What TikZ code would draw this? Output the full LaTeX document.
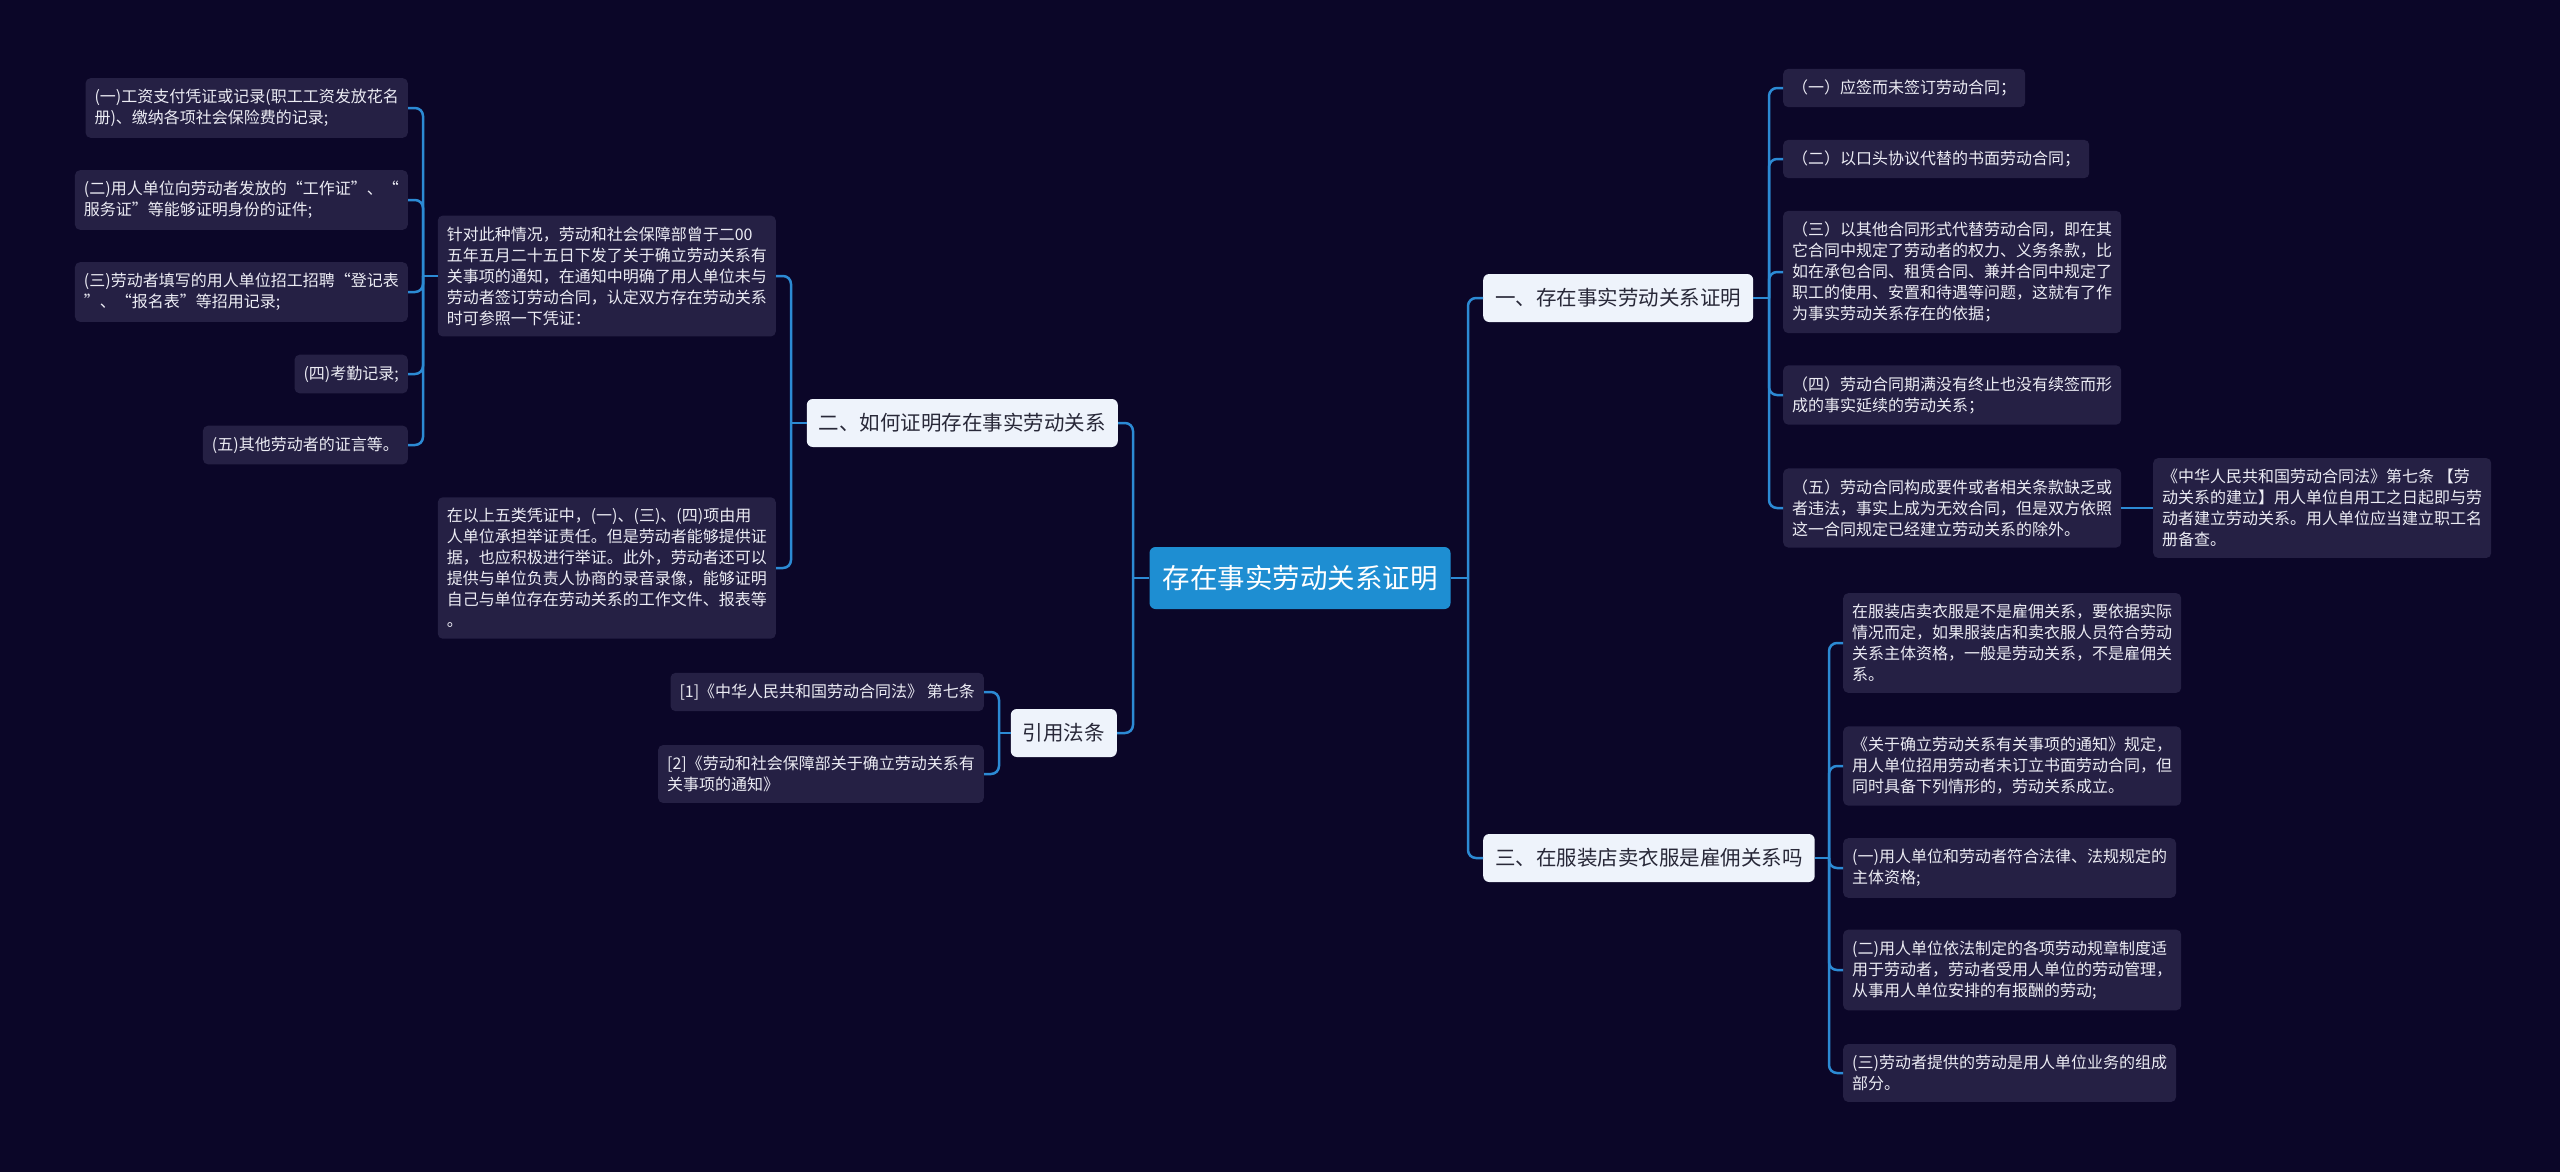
\documentclass[tikz,border=0pt]{standalone}
\usepackage{fontspec}
\setmainfont{Noto Sans CJK SC}
\definecolor{bgnavy}{RGB}{11,6,40}
\definecolor{leafbg}{RGB}{37,32,68}
\definecolor{leaftext}{RGB}{236,236,244}
\definecolor{mainbg}{RGB}{238,243,251}
\definecolor{maintext}{RGB}{40,40,56}
\definecolor{rootblue}{RGB}{30,142,210}
\definecolor{linkblue}{RGB}{44,138,212}

\begin{document}
\begin{tikzpicture}[
    x=1pt, y=-1pt,
    leaf/.style={fill=leafbg, text=leaftext, rounded corners=5pt, align=left, inner xsep=9pt, inner ysep=11pt, font=\fontsize{16pt}{21pt}\selectfont},
    branch/.style={fill=mainbg, text=maintext, rounded corners=6pt, inner xsep=12pt, minimum height=48pt, font=\fontsize{20.5pt}{24pt}\selectfont},
    root/.style={fill=rootblue, text=white, rounded corners=6pt, inner xsep=13pt, minimum height=62pt, font=\fontsize{27.5pt}{32pt}\selectfont},
    link/.style={draw=linkblue, line width=2.5pt, rounded corners=8pt}
]
  \useasboundingbox (0,0) rectangle (2560,1171);
  \fill[bgnavy] (-10,-10) rectangle (2570,1181);

  % centre and main branches
  \node[root] (root) at (1300,578) {存在事实劳动关系证明};
  \node[branch, anchor=west] (one) at (1483,298) {一、存在事实劳动关系证明};
  \node[branch, anchor=east] (two) at (1118,423) {二、如何证明存在事实劳动关系};
  \node[branch, anchor=west] (three) at (1483,858) {三、在服装店卖衣服是雇佣关系吗};
  \node[branch, anchor=east] (cite) at (1117,733) {引用法条};

  % branch one
  \node[leaf, anchor=west] (one1) at (1783,88) {（一）应签而未签订劳动合同；};
  \node[leaf, anchor=west] (one2) at (1783,159) {（二）以口头协议代替的书面劳动合同；};
  \node[leaf, anchor=west] (one3) at (1783,272) {（三）以其他合同形式代替劳动合同，即在其\\它合同中规定了劳动者的权力、义务条款，比\\如在承包合同、租赁合同、兼并合同中规定了\\职工的使用、安置和待遇等问题，这就有了作\\为事实劳动关系存在的依据；};
  \node[leaf, anchor=west] (one4) at (1783,395) {（四）劳动合同期满没有终止也没有续签而形\\成的事实延续的劳动关系；};
  \node[leaf, anchor=west] (one5) at (1783,508) {（五）劳动合同构成要件或者相关条款缺乏或\\者违法，事实上成为无效合同，但是双方依照\\这一合同规定已经建立劳动关系的除外。};
  \node[leaf, anchor=west] (law) at (2153,508) {《中华人民共和国劳动合同法》第七条 【劳\\动关系的建立】用人单位自用工之日起即与劳\\动者建立劳动关系。用人单位应当建立职工名\\册备查。};

  % branch three
  \node[leaf, anchor=west] (three1) at (1843,643) {在服装店卖衣服是不是雇佣关系，要依据实际\\情况而定，如果服装店和卖衣服人员符合劳动\\关系主体资格，一般是劳动关系，不是雇佣关\\系。};
  \node[leaf, anchor=west] (three2) at (1843,766) {《关于确立劳动关系有关事项的通知》规定，\\用人单位招用劳动者未订立书面劳动合同，但\\同时具备下列情形的，劳动关系成立。};
  \node[leaf, anchor=west] (three3) at (1843,868) {(一)用人单位和劳动者符合法律、法规规定的\\主体资格;};
  \node[leaf, anchor=west] (three4) at (1843,970) {(二)用人单位依法制定的各项劳动规章制度适\\用于劳动者，劳动者受用人单位的劳动管理，\\从事用人单位安排的有报酬的劳动;};
  \node[leaf, anchor=west] (three5) at (1843,1073) {(三)劳动者提供的劳动是用人单位业务的组成\\部分。};

  % branch two
  \node[leaf, anchor=east] (two1) at (776,276) {针对此种情况，劳动和社会保障部曾于二00\\五年五月二十五日下发了关于确立劳动关系有\\关事项的通知，在通知中明确了用人单位未与\\劳动者签订劳动合同，认定双方存在劳动关系\\时可参照一下凭证：};
  \node[leaf, anchor=east] (two2) at (776,568) {在以上五类凭证中，(一)、(三)、(四)项由用\\人单位承担举证责任。但是劳动者能够提供证\\据，也应积极进行举证。此外，劳动者还可以\\提供与单位负责人协商的录音录像，能够证明\\自己与单位存在劳动关系的工作文件、报表等\\。};
  \node[leaf, anchor=east] (proof1) at (408,108) {(一)工资支付凭证或记录(职工工资发放花名\\册)、缴纳各项社会保险费的记录;};
  \node[leaf, anchor=east] (proof2) at (408,200) {(二)用人单位向劳动者发放的“工作证”、“\\服务证”等能够证明身份的证件;};
  \node[leaf, anchor=east] (proof3) at (408,292) {(三)劳动者填写的用人单位招工招聘“登记表\\”、“报名表”等招用记录;};
  \node[leaf, anchor=east] (proof4) at (408,374) {(四)考勤记录;};
  \node[leaf, anchor=east] (proof5) at (408,445) {(五)其他劳动者的证言等。};

  % citations
  \node[leaf, anchor=east] (cite1) at (984,692) {[1]《中华人民共和国劳动合同法》 第七条};
  \node[leaf, anchor=east] (cite2) at (984,774) {[2]《劳动和社会保障部关于确立劳动关系有\\关事项的通知》};

  % connectors
  \coordinate (busR) at (1468,578);
  \coordinate (busL) at (1133,578);
  \coordinate (busOne) at (1769,298);
  \coordinate (busThree) at (1829,858);
  \coordinate (busTwo) at (791,423);
  \coordinate (busProof) at (423,276);
  \coordinate (busCite) at (999,733);

  \draw[link] (root.east) -- (busR);
  \draw[link] (root.west) -- (busL);
  \draw[link] (busR) |- (one.west);
  \draw[link] (busR) |- (three.west);
  \draw[link] (busL) |- (two.east);
  \draw[link] (busL) |- (cite.east);

  \draw[link] (one.east) -- (busOne);
  \foreach \c in {one1,one2,one3,one4,one5}
    \draw[link] (busOne) |- (\c.west);
  \draw[link] (one5.east) -- (law.west);

  \draw[link] (three.east) -- (busThree);
  \foreach \c in {three1,three2,three3,three4,three5}
    \draw[link] (busThree) |- (\c.west);

  \draw[link] (two.west) -- (busTwo);
  \foreach \c in {two1,two2}
    \draw[link] (busTwo) |- (\c.east);

  \draw[link] (two1.west) -- (busProof);
  \foreach \c in {proof1,proof2,proof3,proof4,proof5}
    \draw[link] (busProof) |- (\c.east);

  \draw[link] (cite.west) -- (busCite);
  \foreach \c in {cite1,cite2}
    \draw[link] (busCite) |- (\c.east);
\end{tikzpicture}
\end{document}
